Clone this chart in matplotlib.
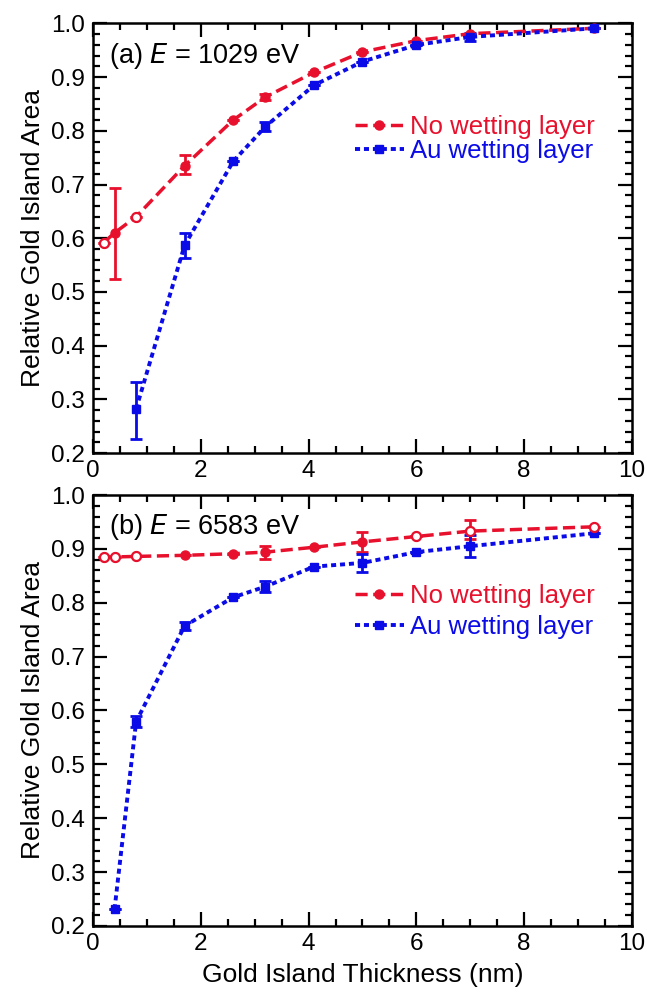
import matplotlib
matplotlib.use("Agg")
import matplotlib.pyplot as plt
from matplotlib.ticker import MultipleLocator

plt.rcParams['font.family'] = ['Liberation Sans', 'DejaVu Sans']

RED = '#e8112d'
BLUE = '#0b0be8'

# ---- panel (a): E = 1029 eV ----
a_red_x = [0.2, 0.4, 0.8, 1.7, 2.6, 3.2, 4.1, 5.0, 6.0, 7.0, 9.3]
a_red_y = [0.592, 0.610, 0.640, 0.735, 0.820, 0.863, 0.909, 0.947, 0.968, 0.981, 0.991]
a_red_lo = [0.0, 0.086, 0.0, 0.015, 0.0, 0.006, 0.0, 0.0, 0.0, 0.0, 0.0]
a_red_hi = [0.0, 0.083, 0.0, 0.020, 0.0, 0.006, 0.0, 0.0, 0.0, 0.0, 0.0]
a_red_open = [True, False, True, False, False, False, False, False, False, False, False]

a_blue_x = [0.8, 1.7, 2.6, 3.2, 4.1, 5.0, 6.0, 7.0, 9.3]
a_blue_y = [0.282, 0.587, 0.743, 0.808, 0.885, 0.929, 0.960, 0.975, 0.991]
a_blue_lo = [0.055, 0.024, 0.0, 0.008, 0.0, 0.0, 0.0, 0.008, 0.0]
a_blue_hi = [0.051, 0.023, 0.0, 0.008, 0.0, 0.0, 0.0, 0.008, 0.0]

# ---- panel (b): E = 6583 eV ----
b_red_x = [0.2, 0.4, 0.8, 1.7, 2.6, 3.2, 4.1, 5.0, 6.0, 7.0, 9.3]
b_red_y = [0.885, 0.885, 0.886, 0.888, 0.891, 0.894, 0.903, 0.913, 0.923, 0.933, 0.941]
b_red_lo = [0.0, 0.0, 0.0, 0.0, 0.0, 0.013, 0.0, 0.018, 0.0, 0.015, 0.0]
b_red_hi = [0.0, 0.0, 0.0, 0.0, 0.0, 0.011, 0.0, 0.019, 0.0, 0.020, 0.0]
b_red_open = [True, True, True, False, False, False, False, False, True, True, True]

b_blue_x = [0.4, 0.8, 1.7, 2.6, 3.2, 4.1, 5.0, 6.0, 7.0, 9.3]
b_blue_y = [0.231, 0.579, 0.757, 0.810, 0.830, 0.867, 0.874, 0.894, 0.905, 0.929]
b_blue_lo = [0.0, 0.010, 0.008, 0.0, 0.010, 0.0, 0.016, 0.0, 0.021, 0.0]
b_blue_hi = [0.0, 0.010, 0.008, 0.0, 0.010, 0.0, 0.016, 0.0, 0.021, 0.0]

x_ticks = [0, 2, 4, 6, 8, 10]
y_ticks = [0.2, 0.3, 0.4, 0.5, 0.6, 0.7, 0.8, 0.9, 1.0]

fig = plt.figure(figsize=(6.47, 9.99), dpi=100)
ax_a = fig.add_axes([0.1437, 0.5465, 0.8331, 0.4300])
ax_b = fig.add_axes([0.1437, 0.0731, 0.8331, 0.4314])


def draw_series(ax, x, y, lo, hi, color, marker, dashes, lw, ms, label, open_flags=None):
    ax.errorbar(x, y, yerr=[lo, hi], fmt='none', ecolor=color, elinewidth=2.0,
                capsize=4.5, capthick=2.0, zorder=3)
    line, = ax.plot(x, y, color=color, lw=lw, dashes=dashes, marker=marker,
                    ms=ms, mfc=color, mec=color, label=label, zorder=4)
    if open_flags is not None:
        xo = [xi for xi, f in zip(x, open_flags) if f]
        yo = [yi for yi, f in zip(y, open_flags) if f]
        ax.plot(xo, yo, ls='none', marker=marker, ms=ms, mfc='white', mec=color,
                mew=1.6, zorder=5)
    return line


def style_axes(ax, text):
    ax.set_xlim(0, 10)
    ax.set_ylim(0.2, 1.0)
    ax.set_xticks(x_ticks)
    ax.set_yticks(y_ticks)
    ax.set_yticklabels([f"{v:.1f}" for v in y_ticks])
    ax.xaxis.set_minor_locator(MultipleLocator(0.5))
    ax.yaxis.set_minor_locator(MultipleLocator(0.02))
    ax.tick_params(which='both', direction='in', top=True, right=True,
                   width=1.6, labelsize=17.5)
    ax.tick_params(axis='x', pad=5)
    ax.tick_params(axis='y', pad=6)
    ax.tick_params(which='major', length=10)
    ax.tick_params(which='minor', length=5)
    for s in ax.spines.values():
        s.set_linewidth(1.8)
    ax.set_ylabel('Relative Gold Island Area', fontsize=19, labelpad=4)
    ax.text(0.03, 0.925, text, transform=ax.transAxes, fontsize=19.5,
            ha='left', va='center')
    leg = ax.legend(loc='center right', bbox_to_anchor=(0.955, 0.73),
                    frameon=False, fontsize=18.5, handlelength=1.9,
                    handletextpad=0.25, labelspacing=0.0 if ax is ax_a else 0.3,
                    borderpad=0)
    for t, c in zip(leg.get_texts(), [RED, BLUE]):
        t.set_color(c)


draw_series(ax_a, a_red_x, a_red_y, a_red_lo, a_red_hi, RED, 'o', (3.5, 1.6), 2.5, 6.5,
            'No wetting layer', a_red_open)
draw_series(ax_a, a_blue_x, a_blue_y, a_blue_lo, a_blue_hi, BLUE, 's', (1.3, 1.0), 2.8, 6,
            'Au wetting layer')
style_axes(ax_a, r'(a) $\it{E}$ = 1029 eV')

draw_series(ax_b, b_red_x, b_red_y, b_red_lo, b_red_hi, RED, 'o', (3.5, 1.6), 2.5, 6.5,
            'No wetting layer', b_red_open)
draw_series(ax_b, b_blue_x, b_blue_y, b_blue_lo, b_blue_hi, BLUE, 's', (1.3, 1.0), 2.8, 6,
            'Au wetting layer')
style_axes(ax_b, r'(b) $\it{E}$ = 6583 eV')
ax_b.set_xlabel('Gold Island Thickness (nm)', fontsize=19, labelpad=6)

fig.savefig('out.png', dpi=100)
